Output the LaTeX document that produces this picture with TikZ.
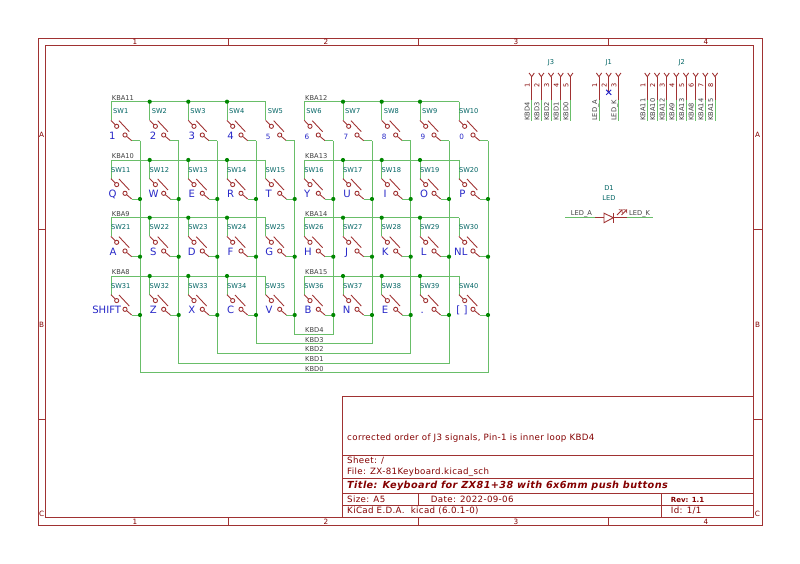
\documentclass[tikz,border=0pt]{standalone}
\usepackage{fontspec}
\setmainfont{DejaVu Sans}
\newfontfamily\kicadfont[LetterSpace=4]{DejaVu Sans}
\definecolor{wirecol}{RGB}{105,190,105}
\definecolor{dotcol}{RGB}{0,135,0}
\definecolor{symcol}{RGB}{132,0,0}
\definecolor{linecol}{RGB}{160,50,50}
\definecolor{refcol}{RGB}{0,100,100}
\definecolor{keycol}{RGB}{40,40,200}
\tikzset{
	wire/.style={draw=wirecol, line width=0.85pt},
	sym/.style={draw=linecol, line width=0.75pt},
	frameline/.style={draw=linecol, line width=0.8pt},
	netlabel/.style={anchor=base west, inner sep=0, text=black!75, font=\fontsize{5.7}{6}\selectfont},
	reflabel/.style={anchor=base, inner sep=0, text=refcol, font=\fontsize{5.7}{6}\selectfont},
	keylabel/.style={anchor=base, inner sep=0, text=keycol, font=\fontsize{8.6}{9}\selectfont},
	pinnum/.style={anchor=base, inner sep=0, rotate=90, text=symcol, font=\fontsize{5.6}{6}\selectfont},
	sheettext/.style={anchor=base west, inner sep=0, text=symcol, font=\kicadfont\fontsize{7.4}{8}\selectfont},
	sheetbold/.style={sheettext, font=\fontsize{6}{7}\selectfont\bfseries},
	titletext/.style={sheettext, font=\kicadfont\fontsize{8.3}{9}\selectfont\bfseries\itshape},
	ruler/.style={anchor=center, inner sep=0, text=symcol, font=\fontsize{6.2}{7}\selectfont}
}
\newcommand{\smallkey}[1]{\fontsize{6.2}{7}\selectfont #1}
\newcommand{\keysw}[5]{
	\coordinate (t#1) at (#2,#3);
	\coordinate (p#1) at (#2,#3+18.7);
	\coordinate (a#1) at (#2+5.7,#3+24.6);
	\coordinate (b#1) at (#2+14,#3+33.3);
	\coordinate (q#1) at (#2+20.7,#3+39);
	\coordinate (e#1) at (#2+29,#3+39);
	\draw [wire] (t#1) -- (p#1);
	\draw [sym] (p#1) -- (a#1);
	\draw [sym] (b#1) -- (q#1);
	\draw [wire] (q#1) -- (e#1);
	\draw [sym, fill=white] (a#1) circle (2.1);
	\draw [sym, fill=white] (b#1) circle (2.1);
	\draw [sym] (#2+8,#3+19) -- (#2+18.3,#3+30);
	\node [reflabel] (sw#1) at (#2+9.7,#3+12.3) {SW#1};
	\node [keylabel] (key#1) at (#2+#5,#3+37.4) {#4};
}
\begin{document}
\begin{tikzpicture}[x=0.03cm, y=-0.03cm]
	\useasboundingbox (0,0) rectangle (800,564);
	\fill [white] (0,0) rectangle (800,564);
	\draw [frameline] (38,38.7) rectangle (762,525.7);
	\draw [frameline] (45.5,45.5) rectangle (753,517.7);
	\foreach \x in {228,418,608} {
		\draw [frameline] (\x,38.7) -- (\x,45.5);
		\draw [frameline] (\x,517.7) -- (\x,525.7);
	}
	\foreach \y in {229,419} {
		\draw [frameline] (38,\y) -- (45.5,\y);
		\draw [frameline] (753,\y) -- (762,\y);
	}
	\foreach \x/\t in {135/1,326/2,516/3,706/4} {
		\node [ruler] (top\t) at (\x,42.2) {\t};
		\node [ruler] (bot\t) at (\x,521.7) {\t};
	}
	\foreach \y/\t in {135/A,325/B,514/C} {
		\node [ruler] (left\t) at (41.7,\y) {\t};
		\node [ruler] (right\t) at (757.5,\y) {\t};
	}
	\foreach \n/\xl/\yr/\key/\dx in {
		1/111/101.7/1/1.4, 2/149.7/101.7/2/3.5, 3/188.3/101.7/3/3.5, 4/227/101.7/4/3.5,
		5/265.7/101.7/\smallkey{5}/2.6, 6/304.3/101.7/\smallkey{6}/2.6, 7/343/101.7/\smallkey{7}/3,
		8/381.7/101.7/\smallkey{8}/2.6, 9/420/101.7/\smallkey{9}/3, 10/459/101.7/\smallkey{0}/2.7,
		11/111/160/Q/1.5, 12/149.7/160/W/4, 13/188.3/160/E/3.4, 14/227/160/R/3.7, 15/265.7/160/T/3,
		16/304.3/160/Y/3, 17/343/160/U/4, 18/381.7/160/I/3.5, 19/420/160/O/4, 20/459/160/P/3.3,
		21/111/217.7/A/2, 22/149.7/217.7/S/3.5, 23/188.3/217.7/D/3.5, 24/227/217.7/F/3.5, 25/265.7/217.7/G/3.5,
		26/304.3/217.7/H/3.7, 27/343/217.7/J/3.7, 28/381.7/217.7/K/3.5, 29/420/217.7/L/3.7, 30/459/217.7/NL/1.8,
		31/111/276/SHIFT/-4.3, 32/149.7/276/Z/3.6, 33/188.3/276/X/3.4, 34/227/276/C/3.7, 35/265.7/276/V/3.3,
		36/304.3/276/B/3.7, 37/343/276/N/3.7, 38/381.7/276/E/3.3, 39/420/276/./2.3, 40/459/276/{[ ]}/3
	} {
		\keysw{\n}{\xl}{\yr}{\key}{\dx}
	}
	\foreach \a/\b in {1/5,11/15,21/25,31/35,6/10,16/20,26/30,36/40} {
		\draw [wire] (t\a) -- (t\b);
	}
	\foreach \a/\c/\d/\b/\y/\txt in {5/35/36/6/334/KBD4, 4/34/37/7/343.7/KBD3, 3/33/38/8/353.3/KBD2, 2/32/39/9/363/KBD1, 1/31/40/10/372.7/KBD0} {
		\draw [wire] (e\a) -- (e\c |- 0,\y) -- (e\d |- 0,\y) -- (e\b);
		\node [netlabel] (net\txt) at (305,\y-1.6) {\txt};
	}
	\foreach \n in {2,3,4,7,8,9,12,13,14,17,18,19,22,23,24,27,28,29,32,33,34,37,38,39} {
		\fill [dotcol] (t\n) circle (2.1);
	}
	\foreach \n in {11,...,40} {
		\fill [dotcol] (e\n) circle (2.1);
	}
	\foreach \x/\y/\txt in {111.7/100.5/KBA11, 111.7/159/KBA10, 111.7/216.7/KBA9, 111.7/275/KBA8, 305/100.5/KBA12, 305/159/KBA13, 305/216.7/KBA14, 305/275/KBA15} {
		\node [netlabel] (row\txt) at (\x,\y) {\txt};
	}
	\foreach \x/\n/\txt in {531.7/1/KBD4, 541.3/2/KBD3, 551/3/KBD2, 560.7/4/KBD1, 570.3/5/KBD0,
		599/1/LED_A, 618.3/3/LED_K,
		647.3/1/KBA11, 657/2/KBA10, 666.7/3/KBA12, 676.3/4/KBA9, 686/5/KBA13, 695.7/6/KBA8, 705.3/7/KBA14, 715/8/KBA15} {
		\draw [sym] (\x-2.6,73) -- (\x,76.7) -- (\x+2.6,73);
		\draw [sym] (\x,76.7) -- (\x,100);
		\draw [wire] (\x,100) -- (\x,121);
		\node [pinnum] (pin\txt) at (\x-2,85) {\n};
		\node [netlabel, rotate=90] (con\txt) at (\x-2,121) {\detokenize\expandafter{\txt}};
	}
	\draw [sym] (606.1,73) -- (608.7,76.7) -- (611.3,73);
	\draw [sym] (608.7,76.7) -- (608.7,92.3);
	\node [pinnum] (pinNC) at (606.7,85) {2};
	\draw [draw=keycol, line width=0.8pt] (606.2,89.8) -- (611.2,94.8) (606.2,94.8) -- (611.2,89.8);
	\node [reflabel] (j3) at (551,64.7) {J3};
	\node [reflabel] (j1) at (608.7,64.7) {J1};
	\node [reflabel] (j2) at (681.7,64.7) {J2};
	\node [reflabel] (d1) at (609,190.7) {D1};
	\node [reflabel] (led) at (609,200.7) {LED};
	\draw [wire] (565,217.7) -- (595,217.7);
	\draw [wire] (627,217.7) -- (652.7,217.7);
	\draw [sym] (595,217.7) -- (627,217.7);
	\draw [sym, fill=white] (604,213.2) -- (604,222.7) -- (613.3,217.7) -- cycle;
	\draw [sym] (613.3,213) -- (613.3,222.7);
	\draw [sym, ->] (617,215) -- (622.5,209.5);
	\draw [sym, ->] (621.5,215) -- (627,209.5);
	\node [netlabel] (ledA) at (570.7,215.7) {LED\_A};
	\node [netlabel] (ledK) at (629,215.7) {LED\_K};
	\draw [frameline] (342.3,396) rectangle (753,517.7);
	\foreach \y in {455.3,478.3,493.7,505.7} {
		\draw [frameline] (342.3,\y) -- (753,\y);
	}
	\draw [frameline] (418.3,493.7) -- (418.3,505.7);
	\draw [frameline] (661.7,493.7) -- (661.7,517.7);
	\node [sheettext] (note) at (347,440.7) {corrected order of J3 signals, Pin-1 is inner loop KBD4};
	\node [sheettext] (sheet) at (347,463.7) {Sheet: /};
	\node [sheettext] (file) at (347,474.2) {File: ZX-81Keyboard.kicad\_sch};
	\node [titletext] (title) at (347,488.7) {Title: Keyboard for ZX81+38 with 6x6mm push buttons};
	\node [sheettext] (size) at (347,502.2) {Size: A5};
	\node [sheettext] (date) at (430.7,502.2) {Date: 2022-09-06};
	\node [sheetbold] (rev) at (670.7,502.2) {Rev: 1.1};
	\node [sheettext] (kicad) at (347,513) {KiCad E.D.A.\ \ kicad (6.0.1-0)};
	\node [sheettext] (id) at (670.7,513) {Id: 1/1};
\end{tikzpicture}
\end{document}
